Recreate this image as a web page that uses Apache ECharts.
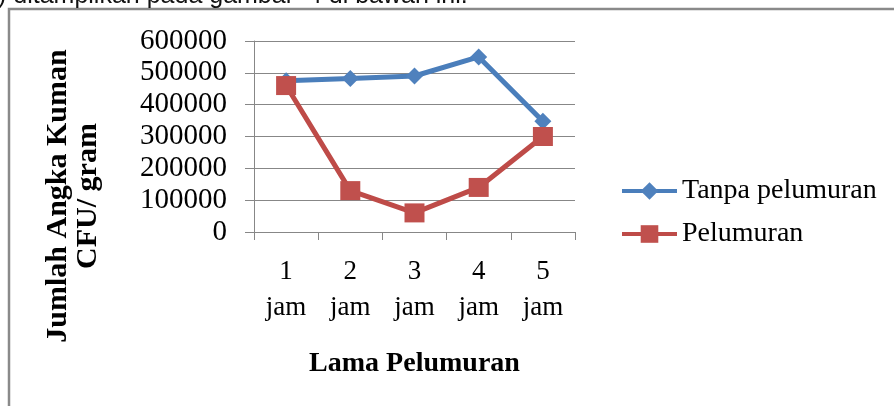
<!DOCTYPE html>
<html>
<head>
<meta charset="utf-8">
<style>
  html, body { margin: 0; padding: 0; background: #fff; }
  #chart { width: 894px; height: 406px; }
</style>
<script src="https://cdn.jsdelivr.net/npm/echarts@6/dist/echarts.min.js"></script>
</head>
<body>
<div id="chart"></div>
<script>
// data
var categories = ['1\njam', '2\njam', '3\njam', '4\njam', '5\njam'];
var tanpaPelumuran = [475000, 482000, 490000, 550000, 348000];
var pelumuran = [460000, 130000, 60000, 140000, 300000];
var seriesNames = ['Tanpa pelumuran', 'Pelumuran'];

var serif = '"Liberation Serif", "Times New Roman", serif';
var gray = '#878787';

var chart = echarts.init(document.getElementById('chart'));
chart.setOption({
  animation: false,
  backgroundColor: '#fff',
  textStyle: { fontFamily: serif },
  grid: {
    left: 254,
    top: 41,
    right: 319,
    bottom: 174,
    containLabel: false
  },
  graphic: [{
    type: 'rect',
    shape: { x: 9, y: 9, width: 920, height: 420 },
    style: { fill: 'none', stroke: '#8a8a8a', lineWidth: 2.5 },
    z: 0
  }, {
    type: 'text',
    left: -2,
    top: -16,
    style: {
      text: ') ditampilkan pada gambar  4 di bawah ini.',
      font: '25px "Liberation Sans", Arial, sans-serif',
      fill: '#111'
    }
  }, {
    type: 'text',
    x: 73,
    y: 196,
    rotation: Math.PI / 2,
    style: {
      text: 'Jumlah Angka Kuman\nCFU/ gram',
      font: 'bold 30px ' + serif,
      fill: '#000',
      align: 'center',
      verticalAlign: 'middle',
      lineHeight: 30
    }
  }],
  legend: {
    orient: 'vertical',
    left: 615,
    top: 172,
    itemWidth: 55,
    itemHeight: 22,
    itemGap: 15,
    data: [
      { name: seriesNames[0], lineStyle: { width: 4 } },
      { name: seriesNames[1], lineStyle: { width: 4 } }
    ],
    textStyle: { fontFamily: serif, fontSize: 28, color: '#000' }
  },
  xAxis: {
    type: 'category',
    data: categories,
    name: 'Lama Pelumuran',
    nameLocation: 'middle',
    nameGap: 118,
    nameTextStyle: { fontFamily: serif, fontSize: 28, fontWeight: 'bold', color: '#000' },
    axisLine: { lineStyle: { color: gray, width: 1 } },
    axisTick: { show: true, length: 8, lineStyle: { color: gray } },
    axisLabel: {
      color: '#000',
      fontFamily: serif,
      fontSize: 27,
      lineHeight: 36,
      margin: 22
    }
  },
  yAxis: {
    type: 'value',
    min: 0,
    max: 600000,
    interval: 100000,
    axisLine: { show: true, lineStyle: { color: gray, width: 1 } },
    axisTick: { show: true, length: 9, lineStyle: { color: gray } },
    axisLabel: {
      color: '#000',
      fontFamily: serif,
      fontSize: 29,
      margin: 27,
      formatter: function (value) {
        return String(value);
      }
    },
    splitLine: { lineStyle: { color: gray, width: 1 } }
  },
  series: [{
    name: seriesNames[0],
    type: 'line',
    data: tanpaPelumuran,
    symbol: 'diamond',
    symbolSize: [17, 17],
    lineStyle: { color: '#4a7ebb', width: 5 },
    itemStyle: { color: '#4f81bd', borderWidth: 0 }
  }, {
    name: seriesNames[1],
    type: 'line',
    data: pelumuran,
    symbol: 'rect',
    symbolSize: [20, 19],
    lineStyle: { color: '#be4b48', width: 5 },
    itemStyle: { color: '#c0504d', borderWidth: 0 }
  }]
});
</script>
</body>
</html>
